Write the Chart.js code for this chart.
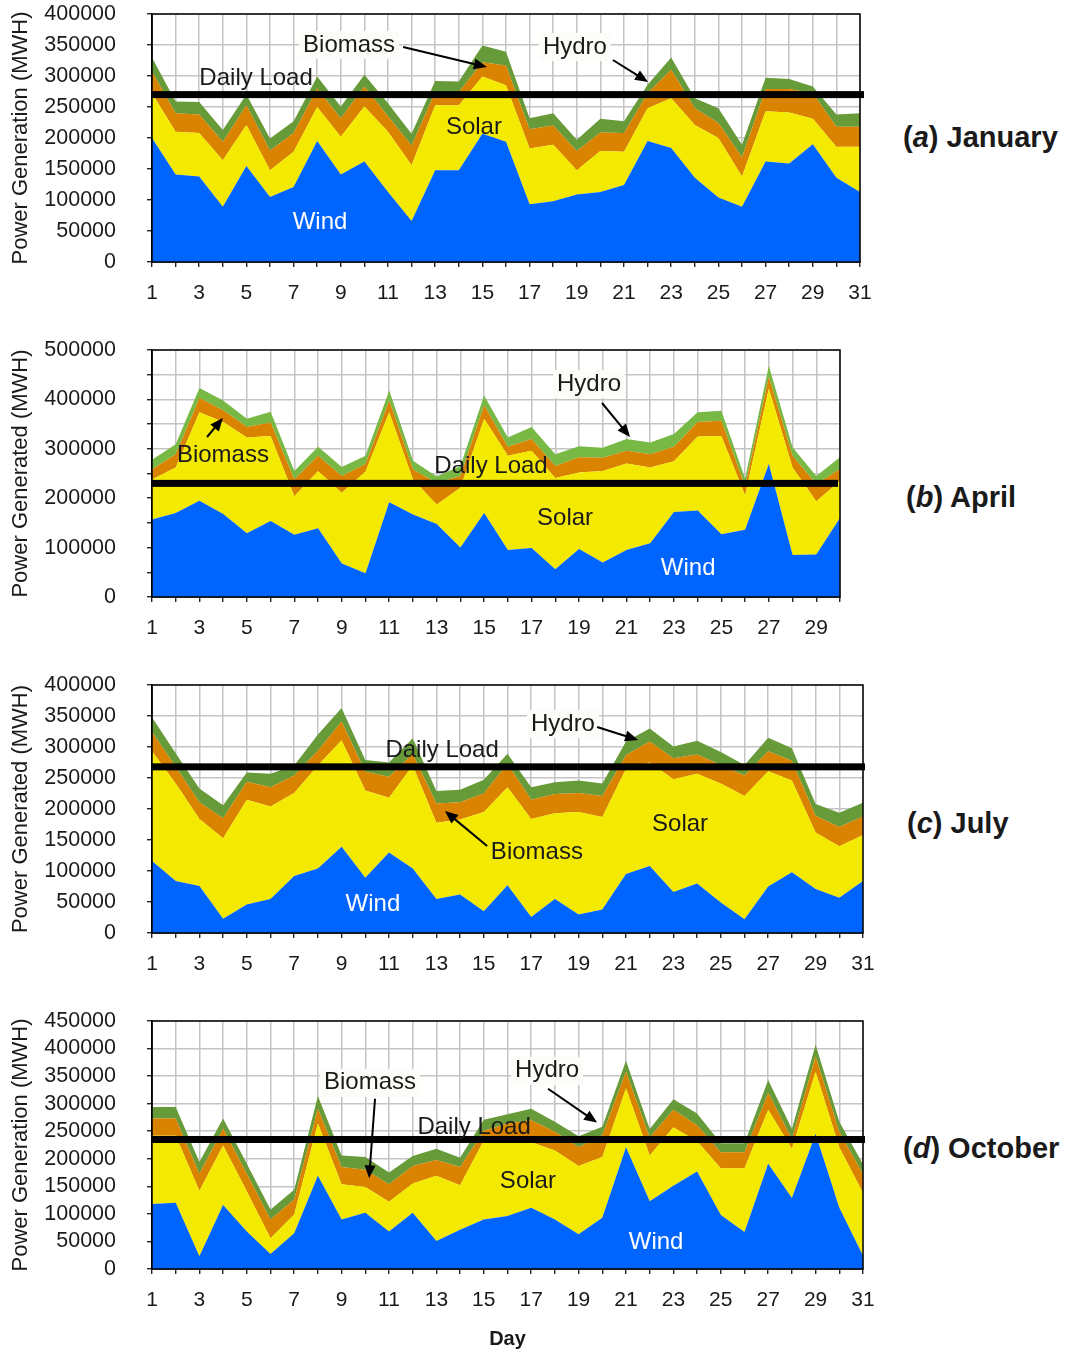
<!DOCTYPE html>
<html><head><meta charset="utf-8">
<script src="https://cdn.jsdelivr.net/npm/chart.js@4.4.1/dist/chart.umd.min.js"></script>
<style>
html,body{margin:0;padding:0;background:#fff;overflow:hidden;width:1068px;height:1352px;}
canvas{position:absolute;left:0;}
.lbl{position:absolute;font-family:"Liberation Sans",Arial,sans-serif;font-weight:bold;font-size:29px;color:#1a1a1a;white-space:nowrap;line-height:1;transform:translateY(-50%);}
</style></head><body>
<canvas id="cA" width="875" height="312" style="top:0px"></canvas>
<canvas id="cB" width="855" height="311" style="top:336px"></canvas>
<canvas id="cC" width="878" height="312" style="top:671px"></canvas>
<canvas id="cD" width="878" height="346" style="top:1007px"></canvas>
<div class="lbl" style="left:903px;top:137px">(<i>a</i>) January</div>
<div class="lbl" style="left:906px;top:497px">(<i>b</i>) April</div>
<div class="lbl" style="left:907px;top:823px">(<i>c</i>) July</div>
<div class="lbl" style="left:903px;top:1148px">(<i>d</i>) October</div>
<script>
// ---------- categories ----------
const days31 = ['1','2','3','4','5','6','7','8','9','10','11','12','13','14','15','16','17','18','19','20','21','22','23','24','25','26','27','28','29','30','31'];
const days30 = ['1','2','3','4','5','6','7','8','9','10','11','12','13','14','15','16','17','18','19','20','21','22','23','24','25','26','27','28','29','30'];

// ---------- January ----------
const janWind    = [200000,141000,138000,89000,155000,105000,121000,195000,141000,162000,113000,66000,148000,148000,207000,194000,93000,98000,109000,113000,124000,195000,184000,136000,104000,89000,162000,159000,190000,136000,113000];
const janSolar   = [72000,69000,70000,75000,66000,43000,57000,55000,61000,89000,97000,90000,105000,105000,92000,91000,90000,91000,39000,66000,54000,53000,80000,85000,96000,49000,81000,82000,41000,50000,73000];
const janBiomass = [35000,30000,30000,30000,32000,32000,30000,30000,30000,32000,25000,32000,21000,21000,23000,32000,31000,31000,31000,30000,30000,24000,46000,27000,24000,31000,36000,38000,41000,32000,32000];
const janHydro   = [23000,19000,20000,19000,17000,19000,19000,19000,19000,19000,21000,19000,18000,17000,27000,22000,18000,20000,18000,22000,19000,14000,20000,16000,24000,20000,18000,16000,11000,20000,22000];
const janLoad = 270000;

// ---------- April ----------
const aprWind    = [157000,170000,195000,168000,129000,154000,126000,139000,68000,48000,192000,167000,148000,100000,170000,95000,99000,56000,97000,70000,95000,109000,172000,175000,127000,136000,269000,85000,86000,160000];
const aprSolar   = [81000,92000,179000,186000,194000,172000,78000,116000,143000,206000,182000,71000,39000,121000,191000,191000,197000,185000,155000,185000,175000,153000,103000,150000,199000,70000,153000,177000,108000,75000];
const aprBiomass = [20000,27000,29000,24000,21000,27000,34000,31000,34000,15000,24000,20000,44000,24000,27000,18000,24000,24000,31000,27000,26000,27000,29000,29000,31000,18000,24000,24000,34000,24000];
const aprHydro   = [20000,20000,20000,20000,17000,22000,17000,18000,18000,17000,20000,18000,13000,20000,20000,19000,24000,24000,22000,20000,24000,24000,26000,20000,20000,16000,22000,17000,17000,24000];
const aprLoad = 230000;

// ---------- July ----------
const julWind    = [116000,84000,76000,23000,46000,55000,92000,104000,139000,89000,130000,104000,55000,62000,35000,77000,26000,55000,30000,38000,95000,108000,66000,80000,49000,22000,75000,98000,71000,57000,84000];
const julSolar   = [177000,157000,108000,130000,169000,149000,134000,166000,172000,141000,88000,166000,123000,121000,160000,158000,158000,138000,165000,149000,170000,167000,182000,177000,192000,199000,186000,148000,91000,83000,74000];
const julBiomass = [31000,27000,27000,32000,29000,31000,28000,24000,30000,30000,34000,19000,31000,28000,30000,38000,31000,31000,31000,34000,22000,34000,34000,31000,30000,33000,32000,32000,27000,31000,30000];
const julHydro   = [24000,22000,22000,21000,15000,22000,16000,26000,22000,19000,23000,25000,20000,20000,22000,16000,20000,19000,20000,20000,22000,21000,19000,22000,21000,17000,22000,20000,19000,23000,22000];
const julLoad = 268000;

// ---------- October ----------
const octWind    = [118000,120000,23000,116000,68000,27000,65000,169000,90000,102000,68000,102000,51000,71000,90000,96000,111000,90000,63000,93000,221000,123000,151000,177000,98000,67000,191000,129000,245000,111000,24000];
const octSolar   = [124000,122000,119000,108000,73000,29000,34000,95000,64000,47000,54000,53000,118000,81000,143000,134000,119000,125000,124000,110000,107000,83000,106000,55000,85000,116000,98000,89000,113000,110000,114000];
const octBiomass = [31000,31000,31000,31000,32000,34000,27000,27000,31000,31000,32000,32000,29000,33000,18000,34000,40000,34000,34000,40000,30000,33000,32000,29000,29000,29000,31000,18000,28000,28000,34000];
const octHydro   = [21000,21000,21000,18000,18000,18000,18000,23000,21000,23000,21000,18000,20000,17000,20000,17000,21000,18000,20000,15000,20000,15000,19000,21000,16000,16000,23000,18000,21000,18000,18000];
const octLoad = 235000;

// ---------- annotations (day, value) ----------
const janNotes = [
  {text:'Biomass', day:9.35, val:350000, bg:true, arrow:[11.64,346800,15.19,314500]},
  {text:'Hydro', day:18.92, val:346800, bg:true, arrow:[20.53,325800,22.02,290300]},
  {text:'Daily Load', day:5.41, val:296800},
  {text:'Solar', day:14.64, val:217700},
  {text:'Wind', day:8.12, val:64500, color:'#ffffff'}
];
const aprNotes = [
  {text:'Biomass', day:3.99, val:287400, arrow:[3.32,323900,3.99,362300]},
  {text:'Hydro', day:19.42, val:431200, bg:true, arrow:[19.97,392700,21.15,323900]},
  {text:'Daily Load', day:15.29, val:265200},
  {text:'Solar', day:18.41, val:159900},
  {text:'Wind', day:23.6, val:58700, color:'#ffffff'}
];
const julNotes = [
  {text:'Hydro', day:18.34, val:337100, bg:true, arrow:[19.78,332300,21.51,311300]},
  {text:'Daily Load', day:13.24, val:295200},
  {text:'Biomass', day:17.24, val:130600, arrow:[15.14,140300,13.36,196800]},
  {text:'Solar', day:23.28, val:175800},
  {text:'Wind', day:10.32, val:46800, color:'#ffffff'}
];
const octNotes = [
  {text:'Biomass', day:10.2, val:337900, bg:true, arrow:[10.41,309000,10.16,164500]},
  {text:'Hydro', day:17.67, val:359600, bg:true, arrow:[17.71,327100,19.78,265700]},
  {text:'Daily Load', day:14.59, val:256600},
  {text:'Solar', day:16.86, val:159000},
  {text:'Wind', day:22.27, val:48800, color:'#ffffff'}
];

const FONT = '"Liberation Sans", Arial, sans-serif';
const C_WIND = '#0064ff', C_SOLAR = '#f4e900', C_BIO = '#d98300', C_HYDRO = '#679a38', C_HYDRO_APR = '#78b844';

const overlay = {
  id: 'overlay',
  afterDatasetsDraw(chart, args, opts) {
    const {ctx, chartArea: a, scales: {x, y}} = chart;
    ctx.save();
    ctx.strokeStyle = '#000'; ctx.lineWidth = 1.5;
    ctx.strokeRect(a.left, a.top, a.right - a.left, a.bottom - a.top);
    const ly = y.getPixelForValue(opts.load);
    ctx.fillStyle = '#000';
    ctx.fillRect(a.left, ly - 3.5, a.right - a.left + opts.loadExtra, 7);
    ctx.font = '24px ' + FONT;
    ctx.textAlign = 'center'; ctx.textBaseline = 'middle';
    for (const n of opts.notes) {
      const px = x.getPixelForValue(n.day - 1), py = y.getPixelForValue(n.val);
      if (n.bg) {
        const w = ctx.measureText(n.text).width;
        ctx.fillStyle = '#fcfcf9';
        ctx.fillRect(px - w/2 - 4, py - 14, w + 8, 28);
      }
      ctx.fillStyle = n.color || '#1a1a1a';
      ctx.fillText(n.text, px, py);
      if (n.arrow) {
        const x1 = x.getPixelForValue(n.arrow[0]-1), y1 = y.getPixelForValue(n.arrow[1]);
        const x2 = x.getPixelForValue(n.arrow[2]-1), y2 = y.getPixelForValue(n.arrow[3]);
        const ang = Math.atan2(y2 - y1, x2 - x1);
        ctx.strokeStyle = '#000'; ctx.lineWidth = 2;
        ctx.beginPath(); ctx.moveTo(x1, y1);
        ctx.lineTo(x2 - 10*Math.cos(ang), y2 - 10*Math.sin(ang)); ctx.stroke();
        ctx.fillStyle = '#000';
        ctx.beginPath();
        ctx.moveTo(x2, y2);
        ctx.lineTo(x2 - 13*Math.cos(ang) + 5.5*Math.sin(ang), y2 - 13*Math.sin(ang) - 5.5*Math.cos(ang));
        ctx.lineTo(x2 - 13*Math.cos(ang) - 5.5*Math.sin(ang), y2 - 13*Math.sin(ang) + 5.5*Math.cos(ang));
        ctx.closePath(); ctx.fill();
      }
    }
    ctx.restore();
  }
};

function makeChart(p) {
  const series = [
    {label:'Wind', data:p.wind, color:C_WIND},
    {label:'Solar', data:p.solar, color:C_SOLAR},
    {label:'Biomass', data:p.biomass, color:C_BIO},
    {label:'Hydro', data:p.hydro, color:p.hydroColor}
  ];
  new Chart(document.getElementById(p.id), {
    type: 'line',
    data: {
      labels: p.labels,
      datasets: series.map((s, i) => ({
        label: s.label, data: s.data, backgroundColor: s.color, borderColor: s.color,
        borderWidth: 0, pointRadius: 0, tension: 0, fill: i === 0 ? 'origin' : '-1'
      }))
    },
    options: {
      responsive: false, animation: false, devicePixelRatio: 1,
      layout: {padding: {top: 14, right: 15, left: 0, bottom: 0}},
      plugins: {legend: {display: false}, tooltip: {enabled: false}, overlay: {load: p.load, notes: p.notes, loadExtra: p.loadExtra}},
      scales: {
        x: {
          offset: false,
          grid: {color: '#c4c4c4', lineWidth: 1.5, tickLength: 5, tickColor: '#000', tickWidth: 1.2},
          border: {display: true, color: '#000', width: 1.5},
          ticks: {autoSkip: false, maxRotation: 0, padding: 14, color: '#1a1a1a', font: {family: FONT, size: 21},
                  callback: (v, i) => (i % 2 === 0 ? p.labels[i] : '')},
          title: p.xTitle ? {display: true, text: p.xTitle, color: '#1a1a1a', font: {family: FONT, size: 20, weight: 'bold'}, padding: {top: 0, bottom: 2}} : {display: false},
          afterFit: s => { s.height = p.xHeight; s.paddingLeft = 0; s.paddingRight = 0; }
        },
        y: {
          stacked: true, min: 0, max: p.yMax,
          grid: {color: '#c4c4c4', lineWidth: 1.5, tickLength: 5, tickColor: '#000', tickWidth: 1.2},
          border: {display: true, color: '#000', width: 1.5},
          ticks: {autoSkip: false, stepSize: 50000, padding: 31, color: '#1a1a1a', font: {family: FONT, size: 21.5},
                  callback: v => (v % p.labelEvery === 0 ? String(v) : '')},
          title: {display: true, text: p.yTitle, color: '#1a1a1a', font: {family: FONT, size: 22}, padding: {top: 8, bottom: 0}},
          afterFit: s => { s.width = 152; s.paddingTop = 0; s.paddingBottom = 0; }
        }
      }
    },
    plugins: [overlay]
  });
}

makeChart({id:'cA', labels:days31, wind:janWind, solar:janSolar, biomass:janBiomass, hydro:janHydro, hydroColor:C_HYDRO,
  load:janLoad, yMax:400000, labelEvery:50000, yTitle:'Power Generation (MWH)', notes:janNotes, loadExtra:4, xHeight:50});
makeChart({id:'cB', labels:days30, wind:aprWind, solar:aprSolar, biomass:aprBiomass, hydro:aprHydro, hydroColor:C_HYDRO_APR,
  load:aprLoad, yMax:500000, labelEvery:100000, yTitle:'Power Generated (MWH)', notes:aprNotes, loadExtra:-2, xHeight:50});
makeChart({id:'cC', labels:days31, wind:julWind, solar:julSolar, biomass:julBiomass, hydro:julHydro, hydroColor:C_HYDRO,
  load:julLoad, yMax:400000, labelEvery:50000, yTitle:'Power Generated (MWH)', notes:julNotes, loadExtra:2, xHeight:50});
makeChart({id:'cD', labels:days31, wind:octWind, solar:octSolar, biomass:octBiomass, hydro:octHydro, hydroColor:C_HYDRO,
  load:octLoad, yMax:450000, labelEvery:50000, yTitle:'Power Generation (MWH)', notes:octNotes, loadExtra:2, xHeight:84, xTitle:'Day'});
</script>
</body></html>
